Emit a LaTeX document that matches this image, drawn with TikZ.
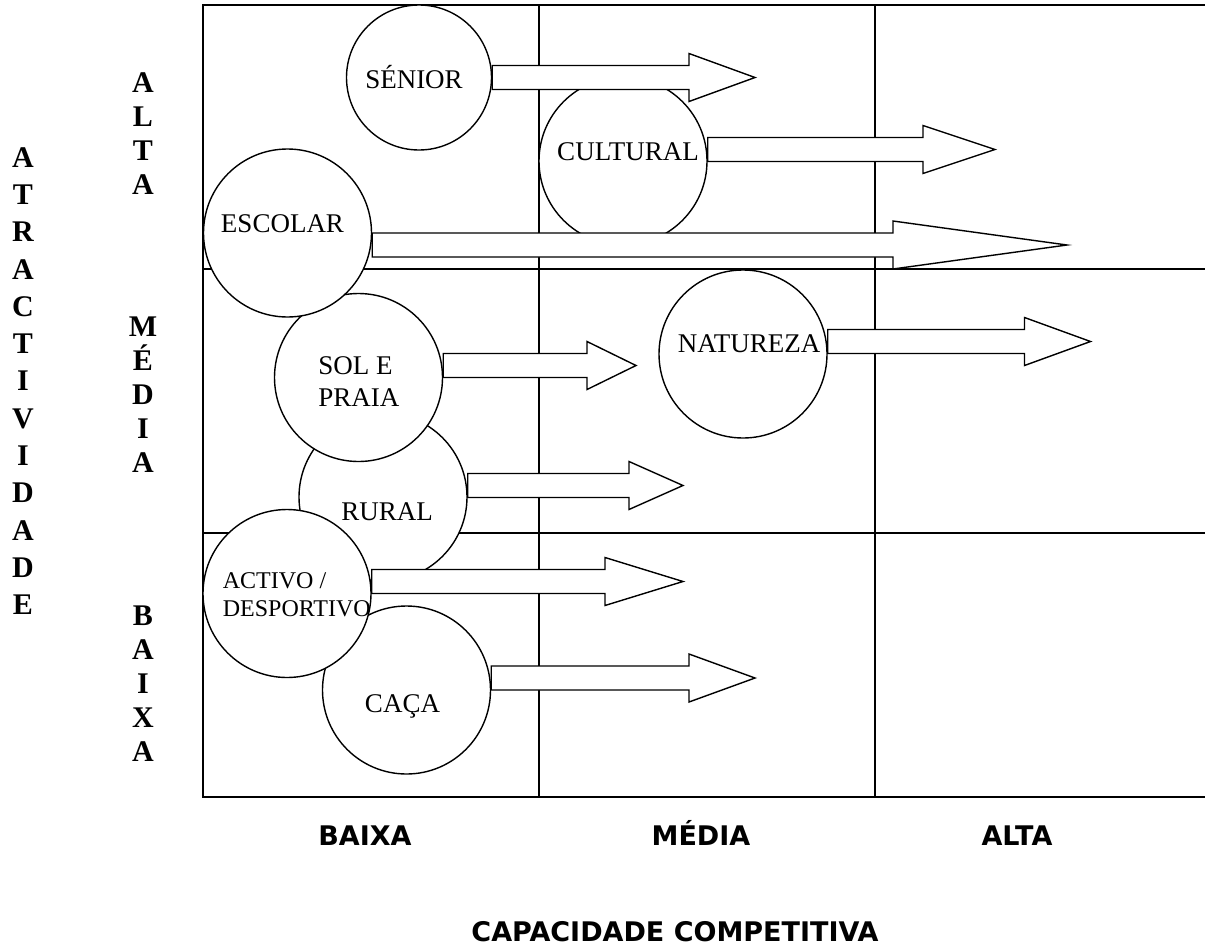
\documentclass[tikz,border=0pt]{standalone}
\usepackage{fontspec}
\setmainfont{Liberation Serif}
\newfontfamily\sidefont{Liberation Serif Bold}
\newfontfamily\axisfont{DejaVu Sans Bold}
\usetikzlibrary{calc}
% block arrow from the east side of a bubble to a tip coordinate
\newcommand{\blockarrow}[3]{%
  \draw[barrow] ($(#1.east |- #2)+(0,-12)$) -- ($(#2)+(-#3,-12)$) -- ($(#2)+(-#3,-24)$)
    -- (#2) -- ($(#2)+(-#3,24)$) -- ($(#2)+(-#3,12)$) -- ($(#1.east |- #2)+(0,12)$) -- cycle;}

\begin{document}
\begin{tikzpicture}[
    x=0.5pt, y=-0.5pt,
    grid/.style={line width=1pt},
    bubble/.style={circle, draw, line width=0.7pt, fill=white, minimum size=84pt, inner sep=0pt},
    lbl/.style={inner sep=0pt, font=\fontsize{13.5}{16}\selectfont},
    side/.style={inner sep=0pt, align=center, font=\sidefont\fontsize{15}{17}\selectfont},
    axis/.style={inner sep=0pt, anchor=base, font=\axisfont\fontsize{13.5}{16}\selectfont},
    barrow/.style={draw, line width=0.7pt, fill=white, line join=miter}
]
\useasboundingbox (0,0) rectangle (1205,948);
% grid
\draw[grid] (1206,5) -- (203,5) -- (203,797) -- (1206,797);
\draw[grid] (203,269) -- (1206,269);
\draw[grid] (203,533) -- (1206,533);
\draw[grid] (539,5) -- (539,797);
\draw[grid] (875,5) -- (875,797);
% axis titles
\node[side, font=\sidefont\fontsize{15}{18.65}\selectfont] (attr) at (23,381) {A\\T\\R\\A\\C\\T\\I\\V\\I\\D\\A\\D\\E};
\node[side] (yalta)  at (143,134) {A\\L\\T\\A};
\node[side] (ymedia) at (143,395) {M\\É\\D\\I\\A};
\node[side] (ybaixa) at (143,684) {B\\A\\I\\X\\A};
\node[axis] (xbaixa) at (365,845) {BAIXA};
\node[axis] (xmedia) at (701,845) {MÉDIA};
\node[axis] (xalta)  at (1017,845) {ALTA};
\node[axis] (capac)  at (675,941) {CAPACIDADE COMPETITIVA};
% bubbles
\node[bubble] (cultural) at (623,161) {};
\node[lbl, anchor=base] (tcultural) at (628,160) {CULTURAL};
\node[bubble] (natureza) at (743,354) {};
\node[lbl, anchor=base] (tnatureza) at (749,352) {NATUREZA};
\node[bubble, minimum size=72.5pt] (senior) at (419,77.5) {};
\node[lbl, anchor=base] (tsenior) at (414,88) {SÉNIOR};
\node[bubble] (caca) at (406.5,690) {};
\node[lbl, anchor=base] (tcaca) at (402.5,712) {CAÇA};
\node[bubble] (rural) at (383,497) {};
\node[lbl, anchor=base] (trural) at (387,520) {RURAL};
\node[bubble] (sol) at (358.5,377.5) {};
\node[lbl, anchor=west, align=left] (tsol) at (318,382) {SOL E\\PRAIA};
\node[bubble] (escolar) at (287.5,233) {};
\node[lbl, anchor=base] (tescolar) at (282.5,232) {ESCOLAR};
\node[bubble] (activo) at (287,593.5) {};
\node[lbl, anchor=west, align=left, font=\fontsize{12}{14}\selectfont] (tactivo) at (222.5,595) {ACTIVO /\\DESPORTIVO};
% arrow tips
\coordinate (senior-tip)   at (755,77.5);
\coordinate (cultural-tip) at (995,149.5);
\coordinate (escolar-tip)  at (1067,245);
\coordinate (sol-tip)      at (636,365.5);
\coordinate (natureza-tip) at (1090.5,341.5);
\coordinate (rural-tip)    at (683,485.5);
\coordinate (activo-tip)   at (683,581.5);
\coordinate (caca-tip)     at (755,678);
% arrows
\blockarrow{senior}{senior-tip}{66}
\blockarrow{cultural}{cultural-tip}{72}
\blockarrow{escolar}{escolar-tip}{174}
\blockarrow{sol}{sol-tip}{49}
\blockarrow{natureza}{natureza-tip}{66}
\blockarrow{rural}{rural-tip}{54}
\blockarrow{activo}{activo-tip}{78}
\blockarrow{caca}{caca-tip}{66}
\end{tikzpicture}
\end{document}
